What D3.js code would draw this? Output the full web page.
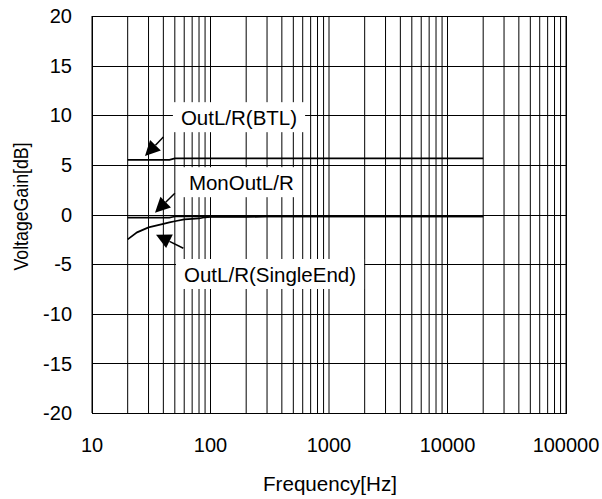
<!DOCTYPE html>
<html lang="en">
<head>
<meta charset="utf-8">
<title>Voltage gain vs frequency</title>
<script src="https://d3js.org/d3.v7.js"></script>
<style>
  body { margin: 0; background: #fff; }
  text { font-family: Arial, "Liberation Sans", sans-serif; fill: #000; }
</style>
</head>
<body>
<div id="my_dataviz"></div>
<script>

// tick values
const freqTicks = [10, 100, 1000, 10000, 100000];
const gainTicks = [-20, -15, -10, -5, 0, 5, 10, 15, 20];

// measured curves (Hz, dB)
const freq = [20, 24, 30, 40, 45, 50, 60, 70, 80, 90, 100, 200, 300, 500, 1000, 2000, 5000, 10000, 20000];
const gainBTL = [5.5, 5.5, 5.5, 5.5, 5.5, 5.65, 5.65, 5.65, 5.65, 5.65, 5.65, 5.65, 5.65, 5.65, 5.65, 5.65, 5.65, 5.65, 5.65];
const gainMon = [-0.32, -0.32, -0.32, -0.32, -0.32, -0.2, -0.2, -0.2, -0.2, -0.2, -0.2, -0.2, -0.2, -0.2, -0.2, -0.2, -0.2, -0.2, -0.2];
const gainSingle = [-2.5, -1.8, -1.3, -0.95, -0.8, -0.68, -0.5, -0.45, -0.4, -0.28, -0.25, -0.25, -0.2, -0.2, -0.2, -0.2, -0.2, -0.2, -0.2];

// callouts: label, label anchor (Hz, dB), arrow tail and tip (Hz, dB)
const callouts = [
  {text: "OutL/R(BTL)", f: 174, g: 9.0, tail: [40, 7.8], tip: [28, 5.9]},
  {text: "MonOutL/R", f: 182, g: 2.45, tail: [50, 2.14], tip: [34, 0.18]},
  {text: "OutL/R(SingleEnd)", f: 318, g: -6.8, tail: [59, -3.4], tip: [34.7, -2.03]}
];

const margin = {top: 16, right: 36, bottom: 86, left: 92},
    width = 602 - margin.left - margin.right,
    height = 499 - margin.top - margin.bottom;

const svg = d3.select("#my_dataviz")
  .append("svg")
    .attr("width", 602)
    .attr("height", 499)
  .append("g")
    .attr("transform", `translate(${margin.left}, ${margin.top})`);

const x = d3.scaleLog()
  .domain([10, 100000])
  .range([0, width]);

const y = d3.scaleLinear()
  .domain([-20, 20])
  .range([height, 0]);

// vertical grid: every log step
const minor = [];
for (let d = 10; d < 100000; d *= 10) {
  for (let k = 1; k <= 9; k++) minor.push(d * k);
}
minor.push(100000);

svg.append("g")
  .selectAll("line")
  .data(minor)
  .join("line")
    .attr("x1", d => x(d))
    .attr("x2", d => x(d))
    .attr("y1", 0)
    .attr("y2", height)
    .attr("stroke", "#000")
    .attr("stroke-width", 1);

// horizontal grid
svg.append("g")
  .selectAll("line")
  .data(gainTicks)
  .join("line")
    .attr("x1", 0)
    .attr("x2", width)
    .attr("y1", d => Math.round(y(d)) + 0.5)
    .attr("y2", d => Math.round(y(d)) + 0.5)
    .attr("stroke", "#000")
    .attr("stroke-width", 1);

// frame
svg.append("rect")
  .attr("x", 0.5)
  .attr("y", 0.5)
  .attr("width", width)
  .attr("height", height)
  .attr("fill", "none")
  .attr("stroke", "#000")
  .attr("stroke-width", 1);

// curves
const line = d3.line()
  .x((d, i) => x(freq[i]))
  .y(d => y(d));

[gainSingle, gainMon, gainBTL].forEach(s => {
  svg.append("path")
    .datum(s)
    .attr("d", line)
    .attr("fill", "none")
    .attr("stroke", "#000")
    .attr("stroke-width", 1.7);
});

// callout boxes and labels
callouts.forEach(c => {
  const t = svg.append("text")
    .attr("x", x(c.f))
    .attr("y", y(c.g))
    .attr("text-anchor", "middle")
    .style("font-size", "20.5px")
    .text(c.text);
  const b = t.node().getBBox();
  svg.insert("rect", "text")
    .attr("x", b.x - 8)
    .attr("y", b.y - 4)
    .attr("width", b.width + 16)
    .attr("height", b.height + 7)
    .attr("fill", "#fff");
});

// arrows
callouts.forEach(c => {
  const x0 = x(c.tail[0]), y0 = y(c.tail[1]);
  const x1 = x(c.tip[0]), y1 = y(c.tip[1]);
  const len = Math.hypot(x1 - x0, y1 - y0);
  const ux = (x1 - x0) / len, uy = (y1 - y0) / len;
  const hl = 15, hw = 7.5;
  const bx = x1 - ux * hl, by = y1 - uy * hl;
  svg.append("line")
    .attr("x1", x0).attr("y1", y0)
    .attr("x2", bx).attr("y2", by)
    .attr("stroke", "#000")
    .attr("stroke-width", 1.5);
  svg.append("path")
    .attr("d", `M${x1},${y1}L${bx - uy * hw},${by + ux * hw}L${bx + uy * hw},${by - ux * hw}Z`)
    .attr("fill", "#000");
});

// tick labels
svg.append("g")
  .selectAll("text")
  .data(gainTicks)
  .join("text")
    .attr("x", -20)
    .attr("y", d => y(d))
    .attr("dy", "0.36em")
    .attr("text-anchor", "end")
    .style("font-size", "20px")
    .text(d => d);

svg.append("g")
  .selectAll("text")
  .data(freqTicks)
  .join("text")
    .attr("x", d => x(d))
    .attr("y", height + 39)
    .attr("text-anchor", "middle")
    .style("font-size", "20px")
    .text(d => d);

// axis titles
svg.append("text")
  .attr("x", width / 2 + 1)
  .attr("y", height + 78)
  .attr("text-anchor", "middle")
  .attr("textLength", 134)
  .attr("lengthAdjust", "spacingAndGlyphs")
  .style("font-size", "20px")
  .text("Frequency[Hz]");

svg.append("text")
  .attr("transform", `translate(${-64}, ${height / 2 - 8}) rotate(-90)`)
  .attr("text-anchor", "middle")
  .attr("textLength", 128)
  .attr("lengthAdjust", "spacingAndGlyphs")
  .style("font-size", "19.5px")
  .text("VoltageGain[dB]");

</script>
</body>
</html>
